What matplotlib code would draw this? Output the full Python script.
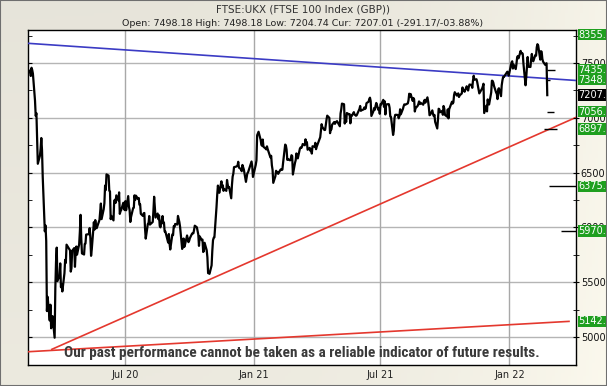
import numpy as np
import pandas as pd
import matplotlib
matplotlib.use('Agg')
import matplotlib.pyplot as plt
from matplotlib.patches import Rectangle
from matplotlib import font_manager

# FTSE 100 daily closes, one list per month
feb20 = [7499, 7534, 7452, 7409, 7433, 7382, 7457, 7437, 7404, 7157, 7018, 7042, 6796, 6581]
mar20 = [6654, 6718, 6816, 6706, 6463, 5965, 6018, 5876, 5237, 5367, 5151, 5295, 5080, 5152,
         5191, 4994, 5446, 5688, 5816, 5510, 5563, 5672]
apr20 = [5455, 5480, 5416, 5582, 5704, 5677, 5843, 5791, 5597, 5628, 5787, 5812, 5641, 5770,
         5826, 5752, 5846, 5959, 6115, 5901]
may20 = [5763, 5753, 5849, 5853, 5935, 5939, 5994, 5904, 5741, 5800, 6048, 5981, 6067, 6015,
         5993, 6068, 6144, 6218, 6076]
jun20 = [6166, 6220, 6382, 6341, 6484, 6473, 6335, 6329, 6076, 6105, 6064, 6243, 6253, 6224,
         6293, 6245, 6320, 6124, 6147, 6159, 6225, 6170]
jul20 = [6158, 6240, 6157, 6286, 6190, 6157, 6050, 6095, 6176, 6180, 6293, 6251, 6290, 6261,
         6269, 6207, 6211, 6124, 6105, 6129, 6132, 5990, 5898]
aug20 = [6032, 6036, 6104, 6026, 6032, 6050, 6154, 6280, 6185, 6090, 6127, 6076, 6111, 6013,
         6001, 6104, 6037, 6045, 5963, 5964]
sep20 = [5862, 5940, 5851, 5799, 5937, 5930, 6012, 6003, 6032, 6026, 6105, 6078, 6049, 6007,
         5804, 5829, 5899, 5822, 5842, 5927, 5897, 5866]
oct20 = [5879, 5902, 5942, 5949, 5946, 5978, 6016, 6001, 5969, 5935, 5832, 5919, 5884, 5889,
         5776, 5785, 5860, 5792, 5728, 5583, 5582, 5577]
nov20 = [5654, 5786, 5883, 5906, 5910, 6186, 6297, 6382, 6339, 6316, 6421, 6365, 6385, 6334,
         6351, 6334, 6433, 6391, 6362, 6368, 6266]
dec20 = [6384, 6463, 6490, 6550, 6555, 6559, 6564, 6599, 6546, 6531, 6513, 6570, 6550, 6529,
         6416, 6453, 6495, 6502, 6602, 6555, 6461]
jan21 = [6571, 6612, 6841, 6857, 6873, 6799, 6754, 6745, 6802, 6736, 6720, 6712, 6740, 6715,
         6695, 6638, 6654, 6567, 6526, 6407]
feb21 = [6467, 6517, 6507, 6504, 6489, 6524, 6531, 6524, 6528, 6589, 6756, 6748, 6710, 6617,
         6624, 6612, 6626, 6659, 6652, 6483]
mar21 = [6589, 6614, 6675, 6651, 6630, 6719, 6730, 6725, 6737, 6761, 6750, 6804, 6763, 6779,
         6709, 6726, 6699, 6712, 6674, 6741, 6736, 6772, 6714]
apr21 = [6737, 6823, 6885, 6942, 6916, 6889, 6890, 6939, 6984, 7020, 7000, 6860, 6896, 6895,
         6938, 6962, 6945, 6963, 6961, 6970]
may21 = [6923, 7039, 7077, 7130, 7124, 6948, 7004, 6963, 7044, 7032, 7034, 6950, 7019, 7018,
         7052, 7029, 7026, 7019, 7023]
jun21 = [7081, 7108, 7064, 7069, 7077, 7095, 7081, 7088, 7134, 7147, 7172, 7184, 7153, 7017,
         7062, 7090, 7074, 7109, 7136, 7072, 7088, 7037]
jul21 = [7125, 7123, 7164, 7101, 7151, 7031, 7122, 7125, 7124, 7092, 7012, 7008, 6844, 6882,
         6998, 7027, 7028, 7026, 6996, 7016, 7078, 7032]
aug21 = [7081, 7105, 7123, 7120, 7122, 7132, 7161, 7220, 7193, 7218, 7154, 7181, 7169, 7058,
         7087, 7109, 7125, 7150, 7125, 7138, 7120]
sep21 = [7150, 7164, 7138, 7187, 7149, 7096, 7024, 7029, 7068, 7034, 7016, 7027, 6963, 6903,
         6981, 7083, 7078, 7051, 7063, 7028, 7108, 7086]
oct21 = [7027, 7011, 7077, 6995, 7078, 7095, 7147, 7130, 7141, 7208, 7234, 7203, 7217, 7223,
         7190, 7205, 7222, 7277, 7253, 7249, 7238]
nov21 = [7288, 7274, 7249, 7280, 7304, 7300, 7274, 7340, 7384, 7348, 7352, 7327, 7291, 7255,
         7223, 7255, 7267, 7286, 7311, 7044, 7110, 7059]
dec21 = [7168, 7129, 7122, 7232, 7339, 7337, 7321, 7291, 7231, 7219, 7171, 7260, 7270, 7198,
         7297, 7341, 7373, 7372, 7421, 7403, 7385]
jan22 = [7505, 7516, 7450, 7485, 7445, 7491, 7552, 7564, 7543, 7611, 7589, 7590, 7585, 7494,
         7297, 7372, 7470, 7555, 7466, 7464]
feb22 = [7535, 7583, 7529, 7516, 7573, 7567, 7644, 7672, 7661, 7531, 7608, 7603, 7537, 7513,
         7484, 7494, 7498, 7207]

months = [('2020-02-11', feb20), ('2020-03', mar20), ('2020-04', apr20), ('2020-05', may20),
          ('2020-06', jun20), ('2020-07', jul20), ('2020-08', aug20), ('2020-09', sep20),
          ('2020-10', oct20), ('2020-11', nov20), ('2020-12', dec20), ('2021-01', jan21),
          ('2021-02', feb21), ('2021-03', mar21), ('2021-04', apr21), ('2021-05', may21),
          ('2021-06', jun21), ('2021-07', jul21), ('2021-08', aug21), ('2021-09', sep21),
          ('2021-10', oct21), ('2021-11', nov21), ('2021-12', dec21), ('2022-01', jan22),
          ('2022-02', feb22)]

uk_holidays = pd.to_datetime(['2020-04-10', '2020-04-13', '2020-05-08', '2020-05-25',
                              '2020-08-31', '2020-12-25', '2020-12-28', '2021-01-01',
                              '2021-04-02', '2021-04-05', '2021-05-03', '2021-05-31',
                              '2021-08-30', '2021-12-27', '2021-12-28', '2022-01-03'])

# trend lines: (start date, start value, end date, end value)
blue_line = ('2020-02-14', 7680, '2022-04-06', 7341)
red_lines = [('2020-03-19', 4888, '2022-04-06', 7004),
             ('2020-02-14', 4866, '2022-03-27', 5143)]

# target dashes: level, from, to
target_levels = [7435, 7348, 7056, 6897, 6375, 5970]
target_from = ['2022-02-24', '2022-02-24', '2022-02-23', '2022-02-19', '2022-02-27', '2022-03-16']
target_to = ['2022-03-07', '2022-02-28', '2022-03-05', '2022-03-10', '2022-04-06', '2022-04-06']

green_labels = [8355.00, 7435.00, 7348.00, 7056.00, 6897.00, 6375.00, 5970.00, 5142.00]
current = 7207.01

xtick_dates = ['2020-07-01', '2021-01-01', '2021-07-01', '2022-01-01']
xtick_labels = ['Jul 20', 'Jan 21', 'Jul 21', 'Jan 22']
ytick_values = [5000, 5500, 6000, 6500, 7000, 7500]

title = 'FTSE:UKX (FTSE 100 Index (GBP))'
subtitle = 'Open: 7498.18 High: 7498.18 Low: 7204.74 Cur: 7207.01 (-291.17/-03.88%)'
disclaimer = 'Our past performance cannot be taken as a reliable indicator of future results.'

# build the date index
dates, closes = [], []
for start, vals in months:
    s = pd.Timestamp(start if len(start) > 7 else start + '-01')
    e = s + pd.offsets.MonthEnd(0)
    days = [d for d in pd.bdate_range(s, e) if d not in uk_holidays]
    for d, v in zip(days, vals):
        dates.append(d)
        closes.append(v)

# narrow bold face for the disclaimer, if one is installed
installed = {f.name for f in font_manager.fontManager.ttflist}
narrow = [f for f in ['Liberation Sans Narrow', 'Roboto Condensed', 'Open Sans Condensed',
                      'DejaVu Sans'] if f in installed] or ['DejaVu Sans']

W, H = 607, 386
fig = plt.figure(figsize=(W / 100, H / 100), dpi=100)

# background gradient (beige, lighter towards the right)
bg = fig.add_axes([0, 0, 1, 1], zorder=-10)
gx = np.linspace(0, 1, 200)[None, :]
gy = np.linspace(0, 1, 120)[:, None]
shade = 0.905 + 0.06 * gx ** 3 + 0.02 * gy
img = np.dstack([shade * 1.0, shade * 0.99, shade * 0.945])
bg.imshow(np.clip(img, 0, 1), aspect='auto', extent=[0, 1, 0, 1], origin='upper')
bg.set_axis_off()
fig.patches.append(Rectangle((0, 0), 1, 1, transform=fig.transFigure, fill=False,
                             ec='#6f6f6f', lw=1.5))

ax = fig.add_axes([28 / W, 1 - 365 / H, 548 / W, 335.5 / H])
ax.set_facecolor('white')
x0, x1 = pd.Timestamp('2020-02-14'), pd.Timestamp('2022-04-06')
y0, y1 = 4745, 7806
ax.set_xlim(x0, x1)
ax.set_ylim(y0, y1)

for v in ytick_values:
    ax.axhline(v, color='#b5b5b5', lw=1, zorder=1)
for d in xtick_dates:
    ax.axvline(pd.Timestamp(d), color='#a8a8a8', lw=1, zorder=1)

ax.plot([pd.Timestamp(blue_line[0]), pd.Timestamp(blue_line[2])], [blue_line[1], blue_line[3]],
        color='#3b3bc4', lw=1.2, zorder=3)
for r in red_lines:
    ax.plot([pd.Timestamp(r[0]), pd.Timestamp(r[2])], [r[1], r[3]], color='#e4382e', lw=1.2, zorder=3)

ax.plot(dates, closes, color='black', lw=1.6, zorder=4)
ax.hlines(target_levels, pd.to_datetime(target_from), pd.to_datetime(target_to),
          color='black', lw=1, zorder=4)

ax.set_xticks(pd.to_datetime(xtick_dates))
ax.set_xticklabels(xtick_labels)
ax.tick_params(axis='x', length=0, pad=3.5, labelsize=7, labelcolor='#222222')
ax.set_yticks(ytick_values)
ax.set_yticks([v + 250 for v in ytick_values], minor=True)
ax.tick_params(axis='y', which='both', direction='in', length=3, left=True, right=False,
               labelleft=False)
for sp in ax.spines.values():
    sp.set_color('black')
    sp.set_linewidth(1)

ax2 = ax.twinx()
ax2.set_ylim(y0, y1)
ax2.set_yticks(ytick_values)
ax2.set_yticks([v + 250 for v in ytick_values], minor=True)
ax2.set_yticklabels([str(v) for v in ytick_values])
ax2.tick_params(axis='y', which='both', direction='inout', length=4, pad=1.5,
                labelsize=7, labelcolor='#111111')
for sp in ax2.spines.values():
    sp.set_visible(False)

lx = 1 + 2.5 / 548
for v in green_labels:
    yy, va = (v, 'center') if v < y1 else (y1, 'top')
    ax2.text(lx, yy, f'{v:.2f}', color='white', fontsize=7, va=va, ha='left',
             transform=ax2.get_yaxis_transform(), clip_on=False, zorder=6,
             bbox=dict(boxstyle='square,pad=0.08', fc='#1f9f1f', ec='none'))
ax2.text(lx, current, f'{current:.2f}', color='white', fontsize=7, va='center', ha='left',
         transform=ax2.get_yaxis_transform(), clip_on=False, zorder=6,
         bbox=dict(boxstyle='square,pad=0.08', fc='black', ec='none'))

disc = ax.text(0.5, 11.5 / 335.5, disclaimer, transform=ax.transAxes, ha='center', va='center',
               fontsize=11, fontweight='bold', fontstretch='condensed', color='#3a3a3a',
               family=narrow, zorder=5)
# shrink the disclaimer to the width it has in the original (about 480 px)
fig.canvas.draw()
wpx = disc.get_window_extent().width
if wpx > 482:
    disc.set_fontsize(11 * 480 / wpx)

fig.text(302.5 / W, 1 - 9 / H, title, ha='center', va='center', fontsize=7.5, color='#333333')
fig.text(302.5 / W, 1 - 23.5 / H, subtitle, ha='center', va='center', fontsize=6.8, color='#222222')

fig.savefig('out.png', dpi=100)
